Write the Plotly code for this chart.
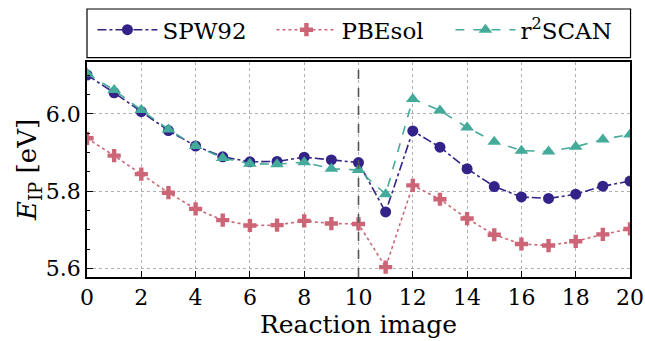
import plotly.graph_objects as go

images = list(range(21))
spw92 = [6.101, 6.055, 6.006, 5.957, 5.917, 5.889, 5.876, 5.877, 5.888, 5.881, 5.874,
         5.746, 5.956, 5.914, 5.858, 5.812, 5.785, 5.781, 5.792, 5.813, 5.826]
pbesol = [5.937, 5.892, 5.844, 5.796, 5.754, 5.725, 5.711, 5.712, 5.723, 5.716, 5.715,
          5.603, 5.815, 5.779, 5.729, 5.687, 5.663, 5.659, 5.670, 5.688, 5.702]
r2scan = [6.105, 6.062, 6.010, 5.960, 5.917, 5.886, 5.871, 5.870, 5.875, 5.858, 5.855,
          5.792, 6.039, 6.009, 5.965, 5.928, 5.905, 5.903, 5.915, 5.934, 5.947]
names = ["SPW92", "PBEsol", "r<sup>2</sup>SCAN"]
ts_image = 10

FONT = "DejaVu Serif"
fig = go.Figure()
fig.add_trace(go.Scatter(x=images, y=spw92, name=names[0], mode="lines+markers",
                         line=dict(color="#332288", width=1.6, dash="dashdot"),
                         marker=dict(symbol="circle", size=11, color="#332288")))
fig.add_trace(go.Scatter(x=images, y=pbesol, name=names[1], mode="lines+markers",
                         line=dict(color="#CC6677", width=1.6, dash="dot"),
                         marker=dict(symbol="cross", size=11, color="#CC6677")))
fig.add_trace(go.Scatter(x=images, y=r2scan, name=names[2], mode="lines+markers",
                         line=dict(color="#44AA99", width=1.6, dash="dash"),
                         marker=dict(symbol="triangle-up", size=12, color="#44AA99")))

fig.add_vline(x=ts_image, line=dict(color="#555555", width=1.6, dash="dash"))

fig.add_shape(type="rect", xref="paper", yref="paper", x0=0, x1=1.001, y0=1.02, y1=1.2465,
              line=dict(color="black", width=1.2), fillcolor="white", layer="below")

fig.update_layout(
    width=645, height=341,
    margin=dict(l=87, r=15, t=62, b=64, autoexpand=False),
    paper_bgcolor="white", plot_bgcolor="white",
    font=dict(family=FONT, size=22, color="black"),
    showlegend=True,
    legend=dict(orientation="h", x=0.01, xanchor="left", y=1.15, yanchor="middle",
                bgcolor="rgba(0,0,0,0)", borderwidth=0, font=dict(size=23, family=FONT),
                itemwidth=60, entrywidth=104, entrywidthmode="pixels", tracegroupgap=0),
    xaxis=dict(range=[0, 20], tickmode="linear", tick0=0, dtick=2, automargin=False,
               showline=True, linecolor="black", linewidth=1.5, mirror=True,
               ticks="inside", ticklen=6, tickcolor="black", tickwidth=1,
               showgrid=True, gridcolor="#b0b0b0", griddash="dot", gridwidth=1,
               zeroline=False, tickfont=dict(size=22, family=FONT),
               title=dict(text="Reaction image", font=dict(size=25, family=FONT), standoff=4)),
    yaxis=dict(range=[5.5775, 6.1347], tickmode="array", tickvals=[5.6, 5.8, 6.0],
               ticktext=["5.6", "5.8", "6.0"], automargin=False,
               showline=True, linecolor="black", linewidth=1.5, mirror=True,
               ticks="inside", ticklen=6, tickcolor="black", tickwidth=1,
               minor=dict(dtick=0.05, tick0=5.6, ticks="inside", ticklen=3, tickcolor="black", showgrid=False),
               showgrid=True, gridcolor="#b0b0b0", griddash="dot", gridwidth=1,
               zeroline=False, tickfont=dict(size=22, family=FONT),
               title=dict(text="<i>E</i><sub>IP</sub> [eV]", font=dict(size=26, family=FONT), standoff=1)),
)

fig.write_html("out.html")
